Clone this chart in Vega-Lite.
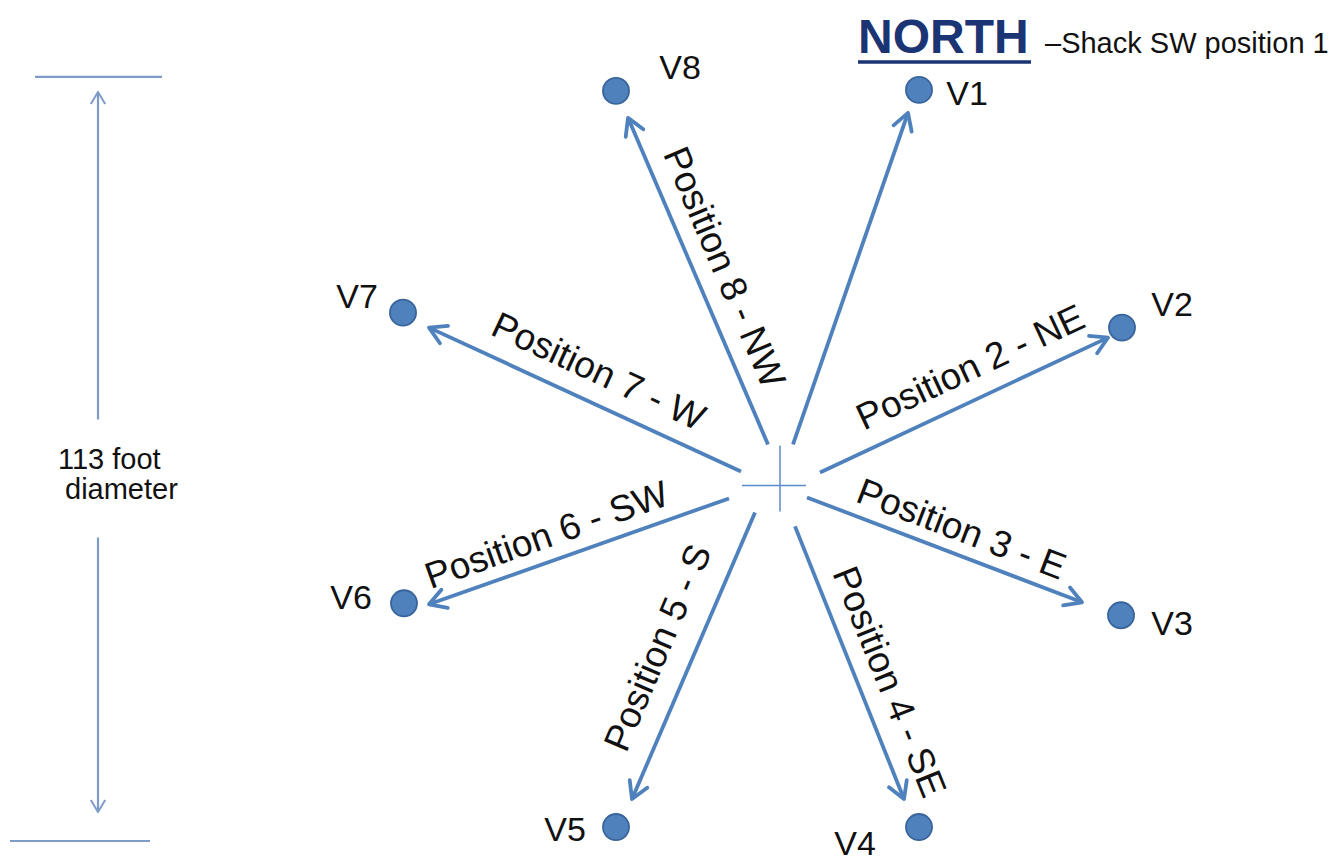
{
  "$schema": "https://vega.github.io/schema/vega-lite/v6.json",
  "width": 1342,
  "height": 862,
  "autosize": {"type": "fit", "contains": "padding"},
  "padding": 0,
  "background": "white",
  "config": {"view": {"stroke": null}, "font": "Liberation Sans"},
  "datasets": {
    "arrows": [
      {"to": "V1", "x": 793, "y": 445, "x2": 908, "y2": 113, "bearing": 19.1},
      {"to": "V2", "x": 820, "y": 473, "x2": 1108, "y2": 338, "bearing": 64.9},
      {"to": "V3", "x": 807, "y": 498, "x2": 1082, "y2": 603, "bearing": 110.9},
      {"to": "V4", "x": 795, "y": 527, "x2": 904, "y2": 800, "bearing": 158.2},
      {"to": "V5", "x": 755, "y": 513, "x2": 632, "y2": 800, "bearing": 203.2},
      {"to": "V6", "x": 729, "y": 499, "x2": 429, "y2": 605, "bearing": 250.5},
      {"to": "V7", "x": 741, "y": 472, "x2": 429, "y2": 328, "bearing": 294.8},
      {"to": "V8", "x": 768, "y": 445, "x2": 628, "y2": 118, "bearing": 336.8}
    ],
    "guides": [
      {"kind": "cross", "x": 742, "y": 486, "x2": 806, "y2": 486},
      {"kind": "cross", "x": 780, "y": 446, "x2": 780, "y2": 512},
      {"kind": "dim", "x": 35, "y": 77, "x2": 162, "y2": 77},
      {"kind": "dim", "x": 10, "y": 842, "x2": 150, "y2": 842},
      {"kind": "dim", "x": 98, "y": 93, "x2": 98, "y2": 420},
      {"kind": "dim", "x": 98, "y": 538, "x2": 98, "y2": 812}
    ],
    "dimheads": [
      {"x": 98, "y": 92, "bearing": 0},
      {"x": 98, "y": 813, "bearing": 180}
    ],
    "stations": [
      {"name": "V1", "x": 919, "y": 90, "lx": 967, "ly": 95},
      {"name": "V2", "x": 1122, "y": 328, "lx": 1172, "ly": 306},
      {"name": "V3", "x": 1121, "y": 616, "lx": 1172, "ly": 626},
      {"name": "V4", "x": 919, "y": 828, "lx": 855, "ly": 846},
      {"name": "V5", "x": 616, "y": 828, "lx": 565, "ly": 832},
      {"name": "V6", "x": 404, "y": 604, "lx": 351, "ly": 600},
      {"name": "V7", "x": 403, "y": 313, "lx": 357, "ly": 298},
      {"name": "V8", "x": 616, "y": 91, "lx": 680, "ly": 69}
    ],
    "positions": [
      {"label": "Position 2 - NE", "x": 971, "y": 369, "angle": -25},
      {"label": "Position 3 - E", "x": 961, "y": 531, "angle": 21},
      {"label": "Position 4 - SE", "x": 888, "y": 683, "angle": 68},
      {"label": "Position 5 - S", "x": 659, "y": 649, "angle": -67},
      {"label": "Position 6 - SW", "x": 547, "y": 537, "angle": -19.5},
      {"label": "Position 7 - W", "x": 598, "y": 373, "angle": 25},
      {"label": "Position 8 - NW", "x": 723, "y": 268, "angle": 67}
    ],
    "north": [{"text": "NORTH", "x": 858, "y": 53}],
    "northline": [{"x": 858, "y": 62, "x2": 1031, "y2": 62}],
    "note": [{"text": "–Shack SW position 1", "x": 1045, "y": 53}],
    "dimtext": [
      {"text": "113 foot", "x": 58, "y": 470},
      {"text": "diameter", "x": 65, "y": 500}
    ]
  },
  "layer": [
    {
      "data": {"name": "guides"},
      "mark": {"type": "rule", "strokeCap": "butt"},
      "encoding": {
        "x": {"field": "x", "type": "quantitative", "scale": {"domain": [0, 1342], "nice": false, "zero": false}, "axis": null},
        "y": {"field": "y", "type": "quantitative", "scale": {"domain": [0, 862], "nice": false, "zero": false, "reverse": true}, "axis": null},
        "x2": {"field": "x2"},
        "y2": {"field": "y2"},
        "color": {"field": "kind", "type": "nominal", "scale": {"domain": ["cross", "dim"], "range": ["#5b8bc9", "#7e9bc6"]}, "legend": null},
        "strokeWidth": {"field": "kind", "type": "nominal", "scale": {"domain": ["cross", "dim"], "range": [1.5, 2.2]}, "legend": null}
      }
    },
    {
      "data": {"name": "dimheads"},
      "mark": {"type": "point", "shape": "M-0.6,1L0,0L0.6,1", "filled": false, "stroke": "#7e9bc6", "strokeWidth": 2, "size": 576, "opacity": 1, "strokeJoin": "round"},
      "encoding": {
        "x": {"field": "x", "type": "quantitative"},
        "y": {"field": "y", "type": "quantitative"},
        "angle": {"field": "bearing", "type": "quantitative", "scale": null}
      }
    },
    {
      "data": {"name": "arrows"},
      "mark": {"type": "rule", "stroke": "#4f81bd", "strokeWidth": 3.8, "strokeCap": "butt"},
      "encoding": {
        "x": {"field": "x", "type": "quantitative"},
        "y": {"field": "y", "type": "quantitative"},
        "x2": {"field": "x2"},
        "y2": {"field": "y2"}
      }
    },
    {
      "data": {"name": "arrows"},
      "mark": {"type": "point", "shape": "M-0.58,1L0,0L0.58,1", "filled": false, "stroke": "#4f81bd", "strokeWidth": 3.8, "size": 1089, "opacity": 1, "strokeJoin": "round", "strokeCap": "round"},
      "encoding": {
        "x": {"field": "x2", "type": "quantitative"},
        "y": {"field": "y2", "type": "quantitative"},
        "angle": {"field": "bearing", "type": "quantitative", "scale": null}
      }
    },
    {
      "data": {"name": "stations"},
      "mark": {"type": "point", "shape": "circle", "filled": true, "fill": "#4f81bd", "stroke": "#3a659c", "strokeWidth": 1.8, "size": 680, "opacity": 1},
      "encoding": {
        "x": {"field": "x", "type": "quantitative"},
        "y": {"field": "y", "type": "quantitative"}
      }
    },
    {
      "data": {"name": "stations"},
      "mark": {"type": "text", "fontSize": 34, "align": "center", "baseline": "middle", "color": "#111111"},
      "encoding": {
        "x": {"field": "lx", "type": "quantitative"},
        "y": {"field": "ly", "type": "quantitative"},
        "text": {"field": "name"}
      }
    },
    {
      "data": {"name": "positions"},
      "mark": {"type": "text", "fontSize": 37, "align": "center", "baseline": "middle", "color": "#111111"},
      "encoding": {
        "x": {"field": "x", "type": "quantitative"},
        "y": {"field": "y", "type": "quantitative"},
        "text": {"field": "label"},
        "angle": {"field": "angle", "type": "quantitative", "scale": null}
      }
    },
    {
      "data": {"name": "north"},
      "mark": {"type": "text", "fontSize": 48, "fontWeight": "bold", "align": "left", "baseline": "alphabetic", "color": "#1b3474"},
      "encoding": {
        "x": {"field": "x", "type": "quantitative"},
        "y": {"field": "y", "type": "quantitative"},
        "text": {"field": "text"}
      }
    },
    {
      "data": {"name": "northline"},
      "mark": {"type": "rule", "stroke": "#1b3474", "strokeWidth": 3.5},
      "encoding": {
        "x": {"field": "x", "type": "quantitative"},
        "y": {"field": "y", "type": "quantitative"},
        "x2": {"field": "x2"},
        "y2": {"field": "y2"}
      }
    },
    {
      "data": {"name": "note"},
      "mark": {"type": "text", "fontSize": 29, "align": "left", "baseline": "alphabetic", "color": "#111111"},
      "encoding": {
        "x": {"field": "x", "type": "quantitative"},
        "y": {"field": "y", "type": "quantitative"},
        "text": {"field": "text"}
      }
    },
    {
      "data": {"name": "dimtext"},
      "mark": {"type": "text", "fontSize": 29, "align": "left", "baseline": "alphabetic", "color": "#111111"},
      "encoding": {
        "x": {"field": "x", "type": "quantitative"},
        "y": {"field": "y", "type": "quantitative"},
        "text": {"field": "text"}
      }
    }
  ]
}
